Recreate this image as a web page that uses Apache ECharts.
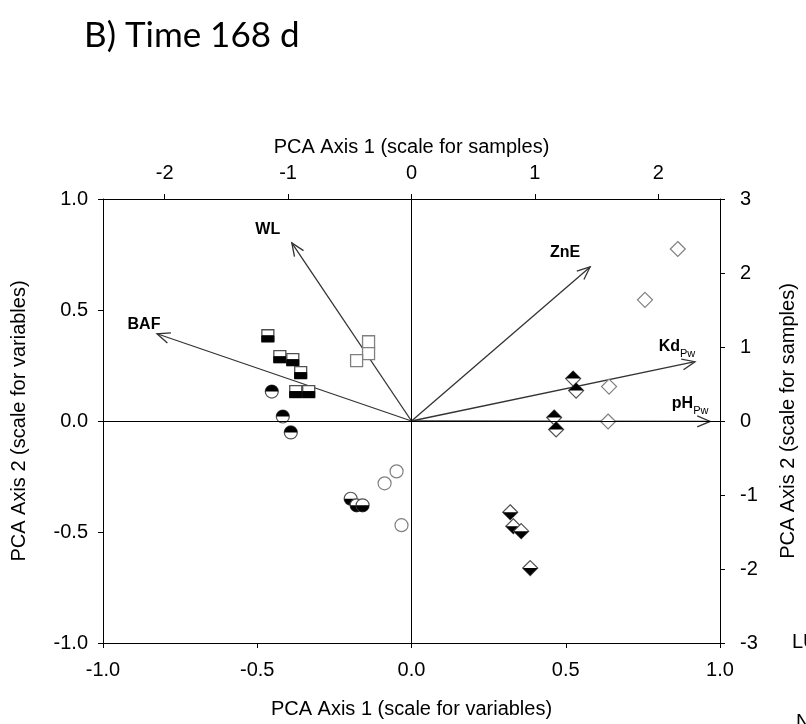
<!DOCTYPE html>
<html>
<head>
    <meta charset="utf-8">
    <title>PCA Time 168 d</title>
    <script src="https://cdn.jsdelivr.net/npm/echarts@6/dist/echarts.min.js"></script>
    <style>
        html, body { margin: 0; padding: 0; background: #fff; }
        #chart { width: 806px; height: 724px; }
    </style>
</head>
<body>
<div id="chart"></div>
<script type="text/javascript">
    // variables (scale for variables): arrow tips
    var varNames = ['WL', 'BAF', 'ZnE', 'Kd', 'pH'];
    var varSubs = ['', '', '', 'Pw', 'Pw'];
    var varX = [-0.388, -0.825, 0.579, 0.919, 0.968];
    var varY = [0.802, 0.393, 0.694, 0.267, -0.002];

    // samples (scale for samples)
    var squaresHalf = [[-1.164, 1.152], [-1.067, 0.869], [-0.962, 0.829], [-0.898, 0.654], [-0.938, 0.398], [-0.833, 0.398]];
    var squaresOpen = [[-0.348, 1.071], [-0.348, 0.910], [-0.445, 0.815]];
    var circlesTopBlack = [[-1.132, 0.398], [-1.043, 0.061], [-0.978, -0.155]];
    var circlesBottomBlack = [[-0.493, -1.051], [-0.445, -1.139], [-0.396, -1.139]];
    var circlesOpen = [[-0.121, -0.681], [-0.218, -0.842], [-0.081, -1.408]];
    var diamondsTopBlack = [[1.310, 0.573], [1.334, 0.411], [1.156, 0.047], [1.172, -0.115]];
    var diamondsBottomBlack = [[0.800, -1.233], [0.825, -1.422], [0.889, -1.489], [0.962, -1.988]];
    var diamondsOpen = [[1.601, 0.465], [1.593, -0.007], [1.892, 1.637], [2.158, 2.324]];

    // axis ticks
    var sampleXTicks = [-2, -1, 0, 1, 2];

    var font = 'Liberation Sans, Arial, sans-serif';
    var gray = '#808080';
    var edge = '#505050';

    // label offsets from arrow tip (px)
    var labelOffsets = {
        WL: [-24, -13], BAF: [-13, -9], ZnE: [-25, -14], Kd: [-18, -15], pH: [-20, -17]
    };

    function markerRenderer(kind) {
        return function (params, api) {
            var p = api.coord([api.value(0), api.value(1)]);
            var x = p[0], y = p[1];
            var kids = [];
            if (kind === 'squareHalf' || kind === 'squareOpen') {
                var s = 12;
                kids.push({type: 'rect', shape: {x: x - s / 2, y: y - s / 2, width: s, height: s},
                    style: {fill: '#fff', stroke: kind === 'squareOpen' ? gray : edge, lineWidth: 1.3}});
                if (kind === 'squareHalf') {
                    kids.push({type: 'rect', shape: {x: x - s / 2, y: y, width: s, height: s / 2},
                        style: {fill: '#000', stroke: '#000', lineWidth: 1}});
                }
            } else if (kind.indexOf('circle') === 0) {
                var r = 6.5;
                kids.push({type: 'circle', shape: {cx: x, cy: y, r: r},
                    style: {fill: '#fff', stroke: kind === 'circleOpen' ? gray : edge, lineWidth: 1.2}});
                if (kind !== 'circleOpen') {
                    var top = kind === 'circleTop';
                    kids.push({type: 'sector', shape: {cx: x, cy: y, r0: 0, r: r,
                        startAngle: top ? Math.PI : 0, endAngle: top ? Math.PI * 2 : Math.PI},
                        style: {fill: '#000'}});
                }
            } else {
                var d = 7.5;
                kids.push({type: 'polygon', shape: {points: [[x, y - d], [x + d, y], [x, y + d], [x - d, y]]},
                    style: {fill: '#fff', stroke: kind === 'diamondOpen' ? gray : edge, lineWidth: 1.2}});
                if (kind === 'diamondTop') {
                    kids.push({type: 'polygon', shape: {points: [[x, y - d], [x + d, y], [x - d, y]]},
                        style: {fill: '#000'}});
                } else if (kind === 'diamondBottom') {
                    kids.push({type: 'polygon', shape: {points: [[x - d, y], [x + d, y], [x, y + d]]},
                        style: {fill: '#000'}});
                }
            }
            return {type: 'group', children: kids};
        };
    }

    function sampleSeries(data, kind) {
        return {
            type: 'custom', xAxisIndex: 1, yAxisIndex: 1, silent: true, z: 3,
            data: data, renderItem: markerRenderer(kind)
        };
    }

    var arrowData = varNames.map(function (n, i) { return [varX[i], varY[i], i]; });

    function axisBase() {
        return {
            type: 'value',
            nameLocation: 'middle',
            nameTextStyle: {fontSize: 20, color: '#000', fontFamily: font},
            axisLine: {show: true, onZero: false, lineStyle: {color: '#000', width: 1}},
            axisTick: {show: true, length: 5, lineStyle: {color: '#000'}},
            axisLabel: {fontSize: 20, color: '#000', margin: 15},
            splitLine: {show: false}
        };
    }
    var fmt1 = function (v) { return v.toFixed(1); };

    var xBottom = axisBase();
    xBottom.position = 'bottom'; xBottom.min = -1; xBottom.max = 1; xBottom.interval = 0.5;
    xBottom.name = 'PCA Axis 1 (scale for variables)'; xBottom.nameGap = 56;
    xBottom.axisLabel.formatter = fmt1; xBottom.axisLabel.margin = 17;

    var xTop = axisBase();
    xTop.position = 'top'; xTop.min = -2.5; xTop.max = 2.5;
    xTop.name = 'PCA Axis 1 (scale for samples)'; xTop.nameGap = 42;
    xTop.axisLabel.margin = 16;
    xTop.axisTick.customValues = sampleXTicks; xTop.axisLabel.customValues = sampleXTicks;

    var yLeft = axisBase();
    yLeft.position = 'left'; yLeft.min = -1; yLeft.max = 1; yLeft.interval = 0.5;
    yLeft.name = 'PCA Axis 2 (scale for variables)'; yLeft.nameGap = 74; yLeft.nameRotate = 90;
    yLeft.axisLabel.formatter = fmt1;

    var yRight = axisBase();
    yRight.position = 'right'; yRight.min = -3; yRight.max = 3; yRight.interval = 1;
    yRight.name = 'PCA Axis 2 (scale for samples)'; yRight.nameGap = 58; yRight.nameRotate = 90;
    yRight.axisLabel.margin = 20;

    var chart = echarts.init(document.getElementById('chart'));
    var option = {
        animation: false,
        backgroundColor: '#fff',
        textStyle: {fontFamily: font},
        title: {
            text: 'B) Time 168 d', left: 79, top: 13,
            textStyle: {fontFamily: 'Lato, sans-serif', fontSize: 35, fontWeight: 'normal', color: '#000'}
        },
        grid: {left: 103, right: 84, top: 199, bottom: 80, containLabel: false},
        xAxis: [xBottom, xTop],
        yAxis: [yLeft, yRight],
        series: [{
            // zero lines + variable arrows
            type: 'custom', xAxisIndex: 0, yAxisIndex: 0, silent: true, z: 2,
            data: arrowData,
            markLine: {
                silent: true, symbol: 'none', label: {show: false},
                lineStyle: {color: '#000', width: 1, type: 'solid'},
                data: [{xAxis: 0}, {yAxis: 0}]
            },
            renderItem: function (params, api) {
                var o = api.coord([0, 0]);
                var t = api.coord([api.value(0), api.value(1)]);
                var i = api.value(2);
                var ang = Math.atan2(t[1] - o[1], t[0] - o[0]);
                var hl = 14, ha = 0.4;
                var h1 = [t[0] - hl * Math.cos(ang - ha), t[1] - hl * Math.sin(ang - ha)];
                var h2 = [t[0] - hl * Math.cos(ang + ha), t[1] - hl * Math.sin(ang + ha)];
                var ls = {stroke: '#333', lineWidth: 1.3, fill: null};
                var name = varNames[i], sub = varSubs[i];
                var off = labelOffsets[name];
                return {
                    type: 'group',
                    children: [
                        {type: 'line', shape: {x1: o[0], y1: o[1], x2: t[0], y2: t[1]}, style: ls},
                        {type: 'polyline', shape: {points: [h1, t, h2]}, style: ls},
                        {type: 'text', x: t[0] + off[0], y: t[1] + off[1], style: {
                            text: sub ? '{b|' + name + '}{s|' + sub + '}' : '{b|' + name + '}',
                            align: 'center', verticalAlign: 'middle',
                            rich: {
                                b: {fontFamily: font, fontSize: 16, fontWeight: 'bold', fill: '#000', lineHeight: 17, verticalAlign: 'top'},
                                s: {fontFamily: font, fontSize: 11, fontWeight: 'normal', fill: '#000', lineHeight: 11, padding: [10, 0, 0, 0], verticalAlign: 'top'}
                            }
                        }}
                    ]
                };
            }
        },
            sampleSeries(squaresHalf, 'squareHalf'),
            sampleSeries(squaresOpen, 'squareOpen'),
            sampleSeries(circlesTopBlack, 'circleTop'),
            sampleSeries(circlesBottomBlack, 'circleBottom'),
            sampleSeries(circlesOpen, 'circleOpen'),
            sampleSeries(diamondsTopBlack, 'diamondTop'),
            sampleSeries(diamondsBottomBlack, 'diamondBottom'),
            sampleSeries(diamondsOpen, 'diamondOpen')
        ],
        graphic: [
            {type: 'text', left: 792, top: 632, style: {text: 'LU', fontFamily: font, fontSize: 20, fill: '#000'}},
            {type: 'text', left: 796, top: 712, style: {text: 'N', fontFamily: font, fontSize: 20, fill: '#000'}}
        ]
    };
    chart.setOption(option);
</script>
</body>
</html>
